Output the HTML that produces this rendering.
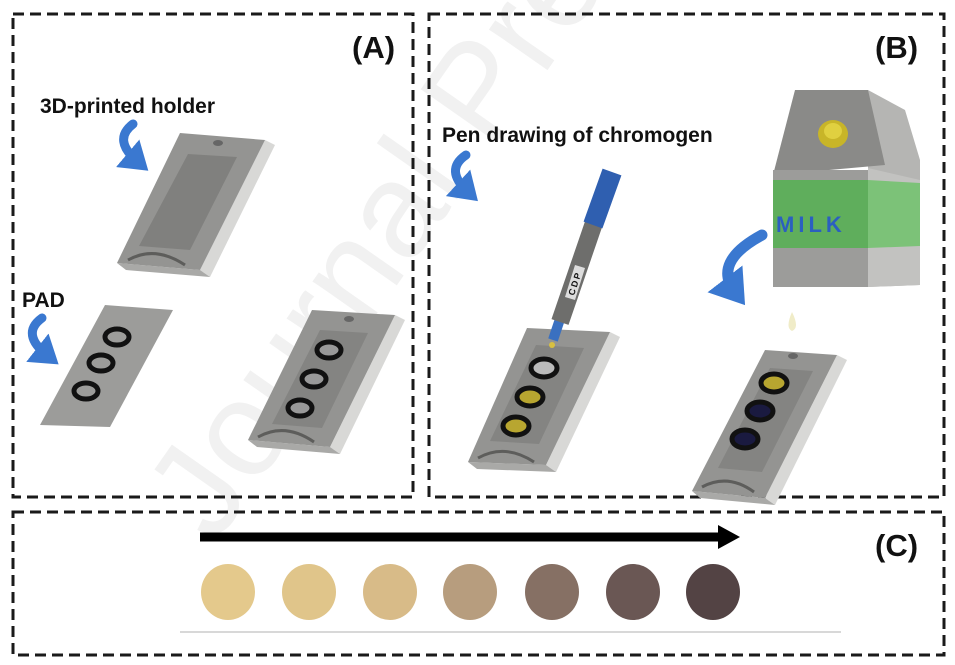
<!DOCTYPE html>
<html><head><meta charset="utf-8"><style>
html,body{margin:0;padding:0;background:#fff;}
svg{display:block;font-family:"Liberation Sans",Arial,sans-serif;}
</style></head><body>
<svg width="955" height="665" viewBox="0 0 955 665" xmlns="http://www.w3.org/2000/svg">
<defs>
<marker id="bh" markerWidth="4" markerHeight="4" refX="1.5" refY="2" orient="auto" markerUnits="strokeWidth"><path d="M0,0 L3,2 L0,4 Z" fill="#3a78d0"/></marker>
</defs>
<!-- watermark -->
<text x="0" y="0" transform="translate(215,545) rotate(-55)" font-size="135" fill="#f1f1f1" font-family="Liberation Sans">Journal Pre-</text>

<!-- frames -->
<g fill="none" stroke="#1a1a1a" stroke-width="3" stroke-dasharray="11,6">
<rect x="13" y="14" width="400" height="483"/>
<rect x="429" y="14" width="515" height="483"/>
<rect x="13" y="512" width="931" height="143"/>
</g>
<g font-weight="bold" fill="#111">
<text x="352" y="58" font-size="31">(A)</text>
<text x="875" y="58" font-size="31">(B)</text>
<text x="875" y="556" font-size="31">(C)</text>
<text x="40" y="113" font-size="21">3D-printed holder</text>
<text x="22" y="307" font-size="21">PAD</text>
<text x="442" y="142" font-size="21">Pen drawing of chromogen</text>
</g>

<!-- A holder 1 -->
<g>
<polygon points="265,140 275,145 210,277 200,270" fill="#d8d8d6"/>
<polygon points="117,263 200,270 210,277 126,270" fill="#a9a9a7"/>
<polygon points="180,133 265,140 200,270 117,263" fill="#949492"/>
<polygon points="188,154 237,157 190,250 139,246" fill="#80807e"/>
<path d="M128,260 Q155,245 185,265" fill="none" stroke="#5d5d5b" stroke-width="3"/>
<ellipse cx="218" cy="143" rx="5" ry="3" fill="#666"/>
</g>
<!-- PAD -->
<g>
<polygon points="105,305 173,310 110,427 40,425" fill="#9c9c9a"/>
<g fill="none" stroke="#111" stroke-width="5">
<ellipse cx="117" cy="337" rx="12" ry="8"/>
<ellipse cx="101" cy="363" rx="12" ry="8"/>
<ellipse cx="86" cy="391" rx="12" ry="8"/>
</g>
</g>
<!-- A holder 2 -->
<g>
<polygon points="395,315 405,320 340,454 330,447" fill="#d8d8d6"/>
<polygon points="248,440 330,447 340,454 257,447" fill="#a9a9a7"/>
<polygon points="312,310 395,315 330,447 248,440" fill="#949492"/>
<polygon points="320,330 368,333 322,428 272,424" fill="#848482"/>
<path d="M258,437 Q285,422 314,442" fill="none" stroke="#5d5d5b" stroke-width="3"/>
<ellipse cx="349" cy="319" rx="5" ry="3" fill="#666"/>
<g fill="#999" stroke="#111" stroke-width="5">
<ellipse cx="329" cy="350" rx="12" ry="8"/>
<ellipse cx="314" cy="379" rx="12" ry="8"/>
<ellipse cx="300" cy="408" rx="12" ry="8"/>
</g>
</g>
<!-- B holder 1 -->
<g>
<polygon points="610,332 620,337 556,472 546,465" fill="#d8d8d6"/>
<polygon points="468,462 546,465 556,472 477,469" fill="#a9a9a7"/>
<polygon points="527,328 610,332 546,465 468,462" fill="#949492"/>
<polygon points="536,345 584,348 539,444 490,441" fill="#848482"/>
<path d="M478,458 Q505,443 534,462" fill="none" stroke="#5d5d5b" stroke-width="3"/>
<ellipse cx="544" cy="368" rx="13" ry="9" fill="#bbb" stroke="#111" stroke-width="5"/>
<ellipse cx="530" cy="397" rx="13" ry="9" fill="#b8a630" stroke="#111" stroke-width="5"/>
<ellipse cx="516" cy="426" rx="13" ry="9" fill="#b8a630" stroke="#111" stroke-width="5"/>
</g>
<!-- B holder 2 -->
<g>
<polygon points="837,355 847,360 775,505 765,498" fill="#d8d8d6"/>
<polygon points="692,491 765,498 775,505 700,498" fill="#a9a9a7"/>
<polygon points="765,350 837,355 765,498 692,491" fill="#949492"/>
<polygon points="770,368 813,371 762,472 718,468" fill="#848482"/>
<path d="M702,487 Q728,473 754,492" fill="none" stroke="#5d5d5b" stroke-width="3"/>
<ellipse cx="793" cy="356" rx="5" ry="3" fill="#666"/>
<ellipse cx="774" cy="383" rx="13" ry="9" fill="#b8a630" stroke="#111" stroke-width="5"/>
<ellipse cx="760" cy="411" rx="13" ry="9" fill="#1a1a40" stroke="#111" stroke-width="5"/>
<ellipse cx="745" cy="439" rx="13" ry="9" fill="#1a1a40" stroke="#111" stroke-width="5"/>
</g>

<!-- pen -->
<g>
<line x1="553" y1="340" x2="603" y2="190" stroke="#3a70c0" stroke-width="10"/>
<line x1="560" y1="322" x2="607" y2="185" stroke="#6e6e6c" stroke-width="18"/>
<line x1="593" y1="225" x2="612" y2="172" stroke="#2f5fb0" stroke-width="20"/>
<polygon points="575,265 585,268 575,300 565,297" fill="#ddd"/>
<text transform="translate(574,296) rotate(-72)" font-size="9" font-weight="bold" fill="#111" letter-spacing="2">CDP</text>
<circle cx="552" cy="345" r="3" fill="#d8c040"/>
</g>

<!-- milk carton -->
<g>
<polygon points="868,90 905,110 920,160 920,285 868,287" fill="#b5b5b3"/>
<polygon points="795,90 868,90 885,165 773,175" fill="#8a8a88"/>
<rect x="773" y="170" width="95" height="117" fill="#9c9c9a"/>
<polygon points="868,168 920,180 920,285 868,287" fill="#c2c2c0"/>
<rect x="773" y="180" width="95" height="68" fill="#5fae5c"/>
<polygon points="868,180 920,183 920,246 868,248" fill="#7cc278"/>
<text x="776" y="232" font-size="22" font-weight="bold" fill="#2b5fc0" letter-spacing="4">MILK</text>
<ellipse cx="833" cy="134" rx="15" ry="14" fill="#c8b528"/>
<ellipse cx="833" cy="131" rx="9" ry="8" fill="#e0d040"/>
</g>
<path d="M792,312 Q785,328 792,331 Q800,328 792,312 Z" fill="#f0ecc8"/>

<!-- blue arrows -->
<g fill="none" stroke="#3a78d0" stroke-linecap="round">
<path d="M133,124 Q112,140 138,162" stroke-width="9" marker-end="url(#bh)"/>
<path d="M42,318 Q20,334 48,356" stroke-width="9" marker-end="url(#bh)"/>
<path d="M466,155 Q444,170 468,192" stroke-width="9" marker-end="url(#bh)"/>
<path d="M762,235 Q712,262 735,292" stroke-width="11" marker-end="url(#bh)"/>
</g>

<!-- C -->
<line x1="200" y1="537" x2="722" y2="537" stroke="#000" stroke-width="9"/>
<polygon points="718,525 740,537 718,549" fill="#000"/>
<ellipse cx="228" cy="592" rx="27" ry="28" fill="#e4c98c"/>
<ellipse cx="309" cy="592" rx="27" ry="28" fill="#e0c58a"/>
<ellipse cx="390" cy="592" rx="27" ry="28" fill="#d8bb88"/>
<ellipse cx="470" cy="592" rx="27" ry="28" fill="#b79d7e"/>
<ellipse cx="552" cy="592" rx="27" ry="28" fill="#867064"/>
<ellipse cx="633" cy="592" rx="27" ry="28" fill="#6a5754"/>
<ellipse cx="713" cy="592" rx="27" ry="28" fill="#534344"/>
<line x1="180" y1="632" x2="841" y2="632" stroke="#ccc" stroke-width="1.5"/>
</svg>
</body></html>
